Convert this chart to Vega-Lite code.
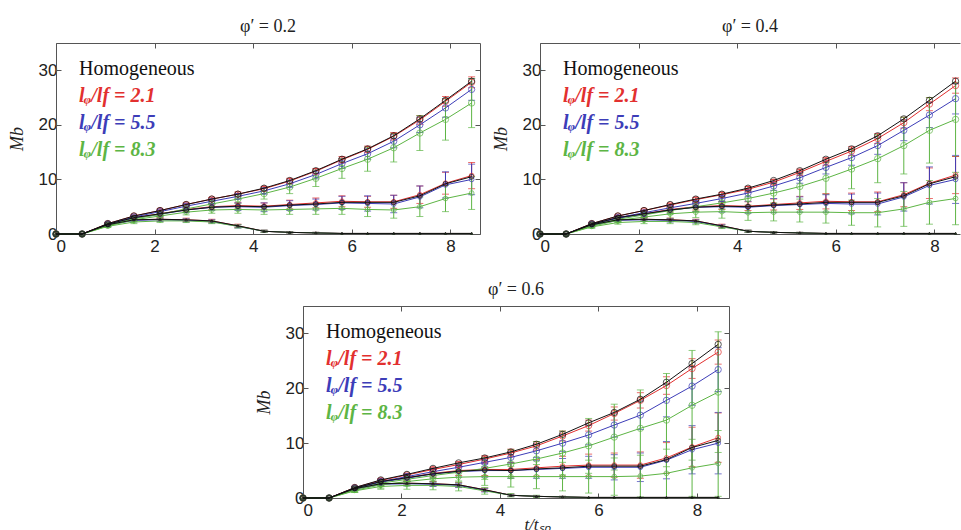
{
"$schema": "https://vega.github.io/schema/vega-lite/v6.json",
"padding": {"left": 8, "top": 17, "right": 0, "bottom": 0},
"config": {
 "view": {"stroke": null},
 "axis": {"grid": false, "labelFont": "Liberation Sans", "labelFontSize": 17, "labelColor": "#222", "domainColor": "#555", "tickColor": "#555", "tickSize": -5, "labelPadding": 4, "titleFont": "Liberation Serif", "titleFontStyle": "italic", "titleFontWeight": "normal", "titleFontSize": 18, "titleColor": "#222", "titlePadding": 12},
 "axisX": {"labelPadding": 9},
 "title": {"font": "Liberation Serif", "fontSize": 18, "fontWeight": "normal", "offset": 7, "color": "#222"},
 "legend": {"orient": "none", "legendX": 3, "legendY": 16, "symbolSize": 0, "symbolStrokeWidth": 0, "symbolOpacity": 0, "labelOffset": 0, "rowPadding": 7, "labelFont": "Liberation Serif", "labelFontSize": 20, "padding": 0},
 "line": {"strokeWidth": 1},
 "point": {"filled": false, "strokeWidth": 1}
},
"datasets": {
"H": [
{"s":"H","g":"u","t":0,"m":0},{"s":"H","g":"u","t":0.53,"m":0},{"s":"H","g":"u","t":1.05,"m":1.9},{"s":"H","g":"u","t":1.58,"m":3.3},{"s":"H","g":"u","t":2.11,"m":4.3},{"s":"H","g":"u","t":2.64,"m":5.4},{"s":"H","g":"u","t":3.16,"m":6.4},{"s":"H","g":"u","t":3.69,"m":7.3},{"s":"H","g":"u","t":4.22,"m":8.4},{"s":"H","g":"u","t":4.74,"m":9.8},{"s":"H","g":"u","t":5.27,"m":11.6},{"s":"H","g":"u","t":5.8,"m":13.7},{"s":"H","g":"u","t":6.32,"m":15.6},{"s":"H","g":"u","t":6.85,"m":18},{"s":"H","g":"u","t":7.38,"m":21.1},{"s":"H","g":"u","t":7.9,"m":24.5},{"s":"H","g":"u","t":8.43,"m":28},
{"s":"H","g":"m","t":0,"m":0},{"s":"H","g":"m","t":0.53,"m":0},{"s":"H","g":"m","t":1.05,"m":1.8},{"s":"H","g":"m","t":1.58,"m":3},{"s":"H","g":"m","t":2.11,"m":3.7},{"s":"H","g":"m","t":2.64,"m":4.4},{"s":"H","g":"m","t":3.16,"m":4.9},{"s":"H","g":"m","t":3.69,"m":5.1},{"s":"H","g":"m","t":4.22,"m":5},{"s":"H","g":"m","t":4.74,"m":5.3},{"s":"H","g":"m","t":5.27,"m":5.5},{"s":"H","g":"m","t":5.8,"m":5.8},{"s":"H","g":"m","t":6.32,"m":5.8},{"s":"H","g":"m","t":6.85,"m":5.8},{"s":"H","g":"m","t":7.38,"m":7},{"s":"H","g":"m","t":7.9,"m":9.2},{"s":"H","g":"m","t":8.43,"m":10.5},
{"s":"H","g":"l","t":0,"m":0},{"s":"H","g":"l","t":0.53,"m":0},{"s":"H","g":"l","t":1.05,"m":1.7},{"s":"H","g":"l","t":1.58,"m":2.6},{"s":"H","g":"l","t":2.11,"m":2.7},{"s":"H","g":"l","t":2.64,"m":2.6},{"s":"H","g":"l","t":3.16,"m":2.4},{"s":"H","g":"l","t":3.69,"m":1.5},{"s":"H","g":"l","t":4.22,"m":0.5},{"s":"H","g":"l","t":4.74,"m":0.3},{"s":"H","g":"l","t":5.27,"m":0.2},{"s":"H","g":"l","t":5.8,"m":0.1},{"s":"H","g":"l","t":6.32,"m":0.1},{"s":"H","g":"l","t":6.85,"m":0.1},{"s":"H","g":"l","t":7.38,"m":0.1},{"s":"H","g":"l","t":7.9,"m":0.1},{"s":"H","g":"l","t":8.43,"m":0.1}
],
"p2": [
{"s":"A","g":"u","t":0,"m":0},{"s":"A","g":"u","t":0.53,"m":0},{"s":"A","g":"u","t":1.05,"m":1.9,"e":0.2},{"s":"A","g":"u","t":1.58,"m":3.3,"e":0.2},{"s":"A","g":"u","t":2.11,"m":4.3,"e":0.3},{"s":"A","g":"u","t":2.64,"m":5.4,"e":0.3},{"s":"A","g":"u","t":3.16,"m":6.4,"e":0.3},{"s":"A","g":"u","t":3.69,"m":7.3,"e":0.4},{"s":"A","g":"u","t":4.22,"m":8.3,"e":0.4},{"s":"A","g":"u","t":4.74,"m":9.7,"e":0.5},{"s":"A","g":"u","t":5.27,"m":11.5,"e":0.5},{"s":"A","g":"u","t":5.8,"m":13.6,"e":0.6},{"s":"A","g":"u","t":6.32,"m":15.5,"e":0.6},{"s":"A","g":"u","t":6.85,"m":17.9,"e":0.7},{"s":"A","g":"u","t":7.38,"m":20.9,"e":0.8},{"s":"A","g":"u","t":7.9,"m":24.3,"e":0.9},{"s":"A","g":"u","t":8.43,"m":27.8,"e":1},
{"s":"A","g":"m","t":0,"m":0},{"s":"A","g":"m","t":0.53,"m":0},{"s":"A","g":"m","t":1.05,"m":1.8,"e":0.2},{"s":"A","g":"m","t":1.58,"m":3,"e":0.2},{"s":"A","g":"m","t":2.11,"m":3.7,"e":0.3},{"s":"A","g":"m","t":2.64,"m":4.5,"e":0.4},{"s":"A","g":"m","t":3.16,"m":5,"e":0.5},{"s":"A","g":"m","t":3.69,"m":5.2,"e":0.6},{"s":"A","g":"m","t":4.22,"m":5.1,"e":0.6},{"s":"A","g":"m","t":4.74,"m":5.4,"e":0.8},{"s":"A","g":"m","t":5.27,"m":5.7,"e":0.9},{"s":"A","g":"m","t":5.8,"m":6,"e":1},{"s":"A","g":"m","t":6.32,"m":5.9,"e":1},{"s":"A","g":"m","t":6.85,"m":5.9,"e":1.2},{"s":"A","g":"m","t":7.38,"m":7.2,"e":1.6},{"s":"A","g":"m","t":7.9,"m":9.3,"e":2},{"s":"A","g":"m","t":8.43,"m":10.7,"e":2.4},
{"s":"A","g":"l","t":0,"m":0},{"s":"A","g":"l","t":0.53,"m":0},{"s":"A","g":"l","t":1.05,"m":1.7,"e":0.2},{"s":"A","g":"l","t":1.58,"m":2.6,"e":0.2},{"s":"A","g":"l","t":2.11,"m":2.7,"e":0.3},{"s":"A","g":"l","t":2.64,"m":2.6,"e":0.3},{"s":"A","g":"l","t":3.16,"m":2.4,"e":0.3},{"s":"A","g":"l","t":3.69,"m":1.5,"e":0.3},{"s":"A","g":"l","t":4.22,"m":0.5,"e":0.2},{"s":"A","g":"l","t":4.74,"m":0.3,"e":0.1},{"s":"A","g":"l","t":5.27,"m":0.2,"e":0.1},{"s":"A","g":"l","t":5.8,"m":0.1},{"s":"A","g":"l","t":6.32,"m":0.1},{"s":"A","g":"l","t":6.85,"m":0.1},{"s":"A","g":"l","t":7.38,"m":0.1},{"s":"A","g":"l","t":7.9,"m":0.1},{"s":"A","g":"l","t":8.43,"m":0.1},
{"s":"B","g":"u","t":0,"m":0},{"s":"B","g":"u","t":0.53,"m":0},{"s":"B","g":"u","t":1.05,"m":1.8,"e":0.2},{"s":"B","g":"u","t":1.58,"m":3.1,"e":0.3},{"s":"B","g":"u","t":2.11,"m":4.1,"e":0.3},{"s":"B","g":"u","t":2.64,"m":5.1,"e":0.4},{"s":"B","g":"u","t":3.16,"m":6,"e":0.4},{"s":"B","g":"u","t":3.69,"m":6.9,"e":0.5},{"s":"B","g":"u","t":4.22,"m":7.9,"e":0.6},{"s":"B","g":"u","t":4.74,"m":9.2,"e":0.7},{"s":"B","g":"u","t":5.27,"m":10.9,"e":0.8},{"s":"B","g":"u","t":5.8,"m":12.9,"e":0.9},{"s":"B","g":"u","t":6.32,"m":14.7,"e":1},{"s":"B","g":"u","t":6.85,"m":17,"e":1.2},{"s":"B","g":"u","t":7.38,"m":20,"e":1.4},{"s":"B","g":"u","t":7.9,"m":23.1,"e":1.7},{"s":"B","g":"u","t":8.43,"m":26.5,"e":2},
{"s":"B","g":"m","t":0,"m":0},{"s":"B","g":"m","t":0.53,"m":0},{"s":"B","g":"m","t":1.05,"m":1.7,"e":0.2},{"s":"B","g":"m","t":1.58,"m":2.9,"e":0.3},{"s":"B","g":"m","t":2.11,"m":3.6,"e":0.4},{"s":"B","g":"m","t":2.64,"m":4.4,"e":0.5},{"s":"B","g":"m","t":3.16,"m":4.9,"e":0.6},{"s":"B","g":"m","t":3.69,"m":5,"e":0.7},{"s":"B","g":"m","t":4.22,"m":4.9,"e":0.8},{"s":"B","g":"m","t":4.74,"m":5.2,"e":0.9},{"s":"B","g":"m","t":5.27,"m":5.4,"e":1},{"s":"B","g":"m","t":5.8,"m":5.7,"e":1.2},{"s":"B","g":"m","t":6.32,"m":5.6,"e":1.4},{"s":"B","g":"m","t":6.85,"m":5.5,"e":1.6},{"s":"B","g":"m","t":7.38,"m":6.8,"e":2},{"s":"B","g":"m","t":7.9,"m":9,"e":2.4},{"s":"B","g":"m","t":8.43,"m":10,"e":2.8},
{"s":"B","g":"l","t":0,"m":0},{"s":"B","g":"l","t":0.53,"m":0},{"s":"B","g":"l","t":1.05,"m":1.6,"e":0.2},{"s":"B","g":"l","t":1.58,"m":2.5,"e":0.3},{"s":"B","g":"l","t":2.11,"m":2.6,"e":0.3},{"s":"B","g":"l","t":2.64,"m":2.5,"e":0.3},{"s":"B","g":"l","t":3.16,"m":2.3,"e":0.3},{"s":"B","g":"l","t":3.69,"m":1.4,"e":0.3},{"s":"B","g":"l","t":4.22,"m":0.5,"e":0.2},{"s":"B","g":"l","t":4.74,"m":0.3,"e":0.1},{"s":"B","g":"l","t":5.27,"m":0.2,"e":0.1},{"s":"B","g":"l","t":5.8,"m":0.1},{"s":"B","g":"l","t":6.32,"m":0.1},{"s":"B","g":"l","t":6.85,"m":0.1},{"s":"B","g":"l","t":7.38,"m":0.1},{"s":"B","g":"l","t":7.9,"m":0.1},{"s":"B","g":"l","t":8.43,"m":0.1},
{"s":"C","g":"u","t":0,"m":0},{"s":"C","g":"u","t":0.53,"m":0},{"s":"C","g":"u","t":1.05,"m":1.6,"e":0.2},{"s":"C","g":"u","t":1.58,"m":2.8,"e":0.3},{"s":"C","g":"u","t":2.11,"m":3.6,"e":0.4},{"s":"C","g":"u","t":2.64,"m":4.6,"e":0.5},{"s":"C","g":"u","t":3.16,"m":5.5,"e":0.6},{"s":"C","g":"u","t":3.69,"m":6.4,"e":0.8},{"s":"C","g":"u","t":4.22,"m":7.4,"e":1},{"s":"C","g":"u","t":4.74,"m":8.6,"e":1.2},{"s":"C","g":"u","t":5.27,"m":10.2,"e":1.5},{"s":"C","g":"u","t":5.8,"m":12,"e":1.8},{"s":"C","g":"u","t":6.32,"m":13.7,"e":2.2},{"s":"C","g":"u","t":6.85,"m":15.8,"e":2.6},{"s":"C","g":"u","t":7.38,"m":18.5,"e":3.2},{"s":"C","g":"u","t":7.9,"m":21,"e":3.8},{"s":"C","g":"u","t":8.43,"m":24,"e":4.5},
{"s":"C","g":"m","t":0,"m":0},{"s":"C","g":"m","t":0.53,"m":0},{"s":"C","g":"m","t":1.05,"m":1.5,"e":0.2},{"s":"C","g":"m","t":1.58,"m":2.6,"e":0.3},{"s":"C","g":"m","t":2.11,"m":3.3,"e":0.4},{"s":"C","g":"m","t":2.64,"m":4,"e":0.5},{"s":"C","g":"m","t":3.16,"m":4.4,"e":0.6},{"s":"C","g":"m","t":3.69,"m":4.5,"e":0.7},{"s":"C","g":"m","t":4.22,"m":4.4,"e":0.8},{"s":"C","g":"m","t":4.74,"m":4.5,"e":0.9},{"s":"C","g":"m","t":5.27,"m":4.6,"e":1},{"s":"C","g":"m","t":5.8,"m":4.7,"e":1.1},{"s":"C","g":"m","t":6.32,"m":4.5,"e":1.3},{"s":"C","g":"m","t":6.85,"m":4.4,"e":1.5},{"s":"C","g":"m","t":7.38,"m":5,"e":1.8},{"s":"C","g":"m","t":7.9,"m":6.5,"e":2.4},{"s":"C","g":"m","t":8.43,"m":7.5,"e":3},
{"s":"C","g":"l","t":0,"m":0},{"s":"C","g":"l","t":0.53,"m":0},{"s":"C","g":"l","t":1.05,"m":1.4,"e":0.2},{"s":"C","g":"l","t":1.58,"m":2.2,"e":0.3},{"s":"C","g":"l","t":2.11,"m":2.4,"e":0.3},{"s":"C","g":"l","t":2.64,"m":2.4,"e":0.3},{"s":"C","g":"l","t":3.16,"m":2.2,"e":0.3},{"s":"C","g":"l","t":3.69,"m":1.4,"e":0.3},{"s":"C","g":"l","t":4.22,"m":0.5,"e":0.2},{"s":"C","g":"l","t":4.74,"m":0.3,"e":0.1},{"s":"C","g":"l","t":5.27,"m":0.2,"e":0.1},{"s":"C","g":"l","t":5.8,"m":0.1},{"s":"C","g":"l","t":6.32,"m":0.1},{"s":"C","g":"l","t":6.85,"m":0.1},{"s":"C","g":"l","t":7.38,"m":0.1},{"s":"C","g":"l","t":7.9,"m":0.1},{"s":"C","g":"l","t":8.43,"m":0.1}
],
"p4": [
{"s":"A","g":"u","t":0,"m":0},{"s":"A","g":"u","t":0.53,"m":0},{"s":"A","g":"u","t":1.05,"m":1.9,"e":0.2},{"s":"A","g":"u","t":1.58,"m":3.3,"e":0.2},{"s":"A","g":"u","t":2.11,"m":4.3,"e":0.3},{"s":"A","g":"u","t":2.64,"m":5.3,"e":0.3},{"s":"A","g":"u","t":3.16,"m":6.3,"e":0.4},{"s":"A","g":"u","t":3.69,"m":7.2,"e":0.4},{"s":"A","g":"u","t":4.22,"m":8.2,"e":0.5},{"s":"A","g":"u","t":4.74,"m":9.5,"e":0.5},{"s":"A","g":"u","t":5.27,"m":11.3,"e":0.6},{"s":"A","g":"u","t":5.8,"m":13.3,"e":0.7},{"s":"A","g":"u","t":6.32,"m":15.2,"e":0.8},{"s":"A","g":"u","t":6.85,"m":17.5,"e":0.9},{"s":"A","g":"u","t":7.38,"m":20.4,"e":1},{"s":"A","g":"u","t":7.9,"m":23.8,"e":1.2},{"s":"A","g":"u","t":8.43,"m":27.2,"e":1.4},
{"s":"A","g":"m","t":0,"m":0},{"s":"A","g":"m","t":0.53,"m":0},{"s":"A","g":"m","t":1.05,"m":1.8,"e":0.2},{"s":"A","g":"m","t":1.58,"m":3,"e":0.3},{"s":"A","g":"m","t":2.11,"m":3.7,"e":0.4},{"s":"A","g":"m","t":2.64,"m":4.5,"e":0.5},{"s":"A","g":"m","t":3.16,"m":5,"e":0.6},{"s":"A","g":"m","t":3.69,"m":5.2,"e":0.7},{"s":"A","g":"m","t":4.22,"m":5.1,"e":0.8},{"s":"A","g":"m","t":4.74,"m":5.4,"e":1},{"s":"A","g":"m","t":5.27,"m":5.7,"e":1.2},{"s":"A","g":"m","t":5.8,"m":6,"e":1.4},{"s":"A","g":"m","t":6.32,"m":5.9,"e":1.6},{"s":"A","g":"m","t":6.85,"m":5.9,"e":1.8},{"s":"A","g":"m","t":7.38,"m":7.2,"e":2.2},{"s":"A","g":"m","t":7.9,"m":9.3,"e":2.8},{"s":"A","g":"m","t":8.43,"m":10.8,"e":3.4},
{"s":"A","g":"l","t":0,"m":0},{"s":"A","g":"l","t":0.53,"m":0},{"s":"A","g":"l","t":1.05,"m":1.7,"e":0.2},{"s":"A","g":"l","t":1.58,"m":2.6,"e":0.2},{"s":"A","g":"l","t":2.11,"m":2.7,"e":0.3},{"s":"A","g":"l","t":2.64,"m":2.6,"e":0.3},{"s":"A","g":"l","t":3.16,"m":2.4,"e":0.3},{"s":"A","g":"l","t":3.69,"m":1.5,"e":0.3},{"s":"A","g":"l","t":4.22,"m":0.5,"e":0.2},{"s":"A","g":"l","t":4.74,"m":0.3,"e":0.1},{"s":"A","g":"l","t":5.27,"m":0.2,"e":0.1},{"s":"A","g":"l","t":5.8,"m":0.1},{"s":"A","g":"l","t":6.32,"m":0.1},{"s":"A","g":"l","t":6.85,"m":0.1},{"s":"A","g":"l","t":7.38,"m":0.1},{"s":"A","g":"l","t":7.9,"m":0.1},{"s":"A","g":"l","t":8.43,"m":0.1},
{"s":"B","g":"u","t":0,"m":0},{"s":"B","g":"u","t":0.53,"m":0},{"s":"B","g":"u","t":1.05,"m":1.8,"e":0.2},{"s":"B","g":"u","t":1.58,"m":3,"e":0.3},{"s":"B","g":"u","t":2.11,"m":3.9,"e":0.4},{"s":"B","g":"u","t":2.64,"m":4.8,"e":0.4},{"s":"B","g":"u","t":3.16,"m":5.6,"e":0.5},{"s":"B","g":"u","t":3.69,"m":6.5,"e":0.6},{"s":"B","g":"u","t":4.22,"m":7.5,"e":0.7},{"s":"B","g":"u","t":4.74,"m":8.8,"e":0.8},{"s":"B","g":"u","t":5.27,"m":10.3,"e":1},{"s":"B","g":"u","t":5.8,"m":12.2,"e":1.2},{"s":"B","g":"u","t":6.32,"m":14,"e":1.4},{"s":"B","g":"u","t":6.85,"m":16.2,"e":1.6},{"s":"B","g":"u","t":7.38,"m":19,"e":1.9},{"s":"B","g":"u","t":7.9,"m":21.8,"e":2.3},{"s":"B","g":"u","t":8.43,"m":24.8,"e":2.8},
{"s":"B","g":"m","t":0,"m":0},{"s":"B","g":"m","t":0.53,"m":0},{"s":"B","g":"m","t":1.05,"m":1.7,"e":0.2},{"s":"B","g":"m","t":1.58,"m":2.9,"e":0.3},{"s":"B","g":"m","t":2.11,"m":3.6,"e":0.5},{"s":"B","g":"m","t":2.64,"m":4.4,"e":0.6},{"s":"B","g":"m","t":3.16,"m":4.9,"e":0.8},{"s":"B","g":"m","t":3.69,"m":5,"e":1},{"s":"B","g":"m","t":4.22,"m":4.9,"e":1.1},{"s":"B","g":"m","t":4.74,"m":5.2,"e":1.3},{"s":"B","g":"m","t":5.27,"m":5.4,"e":1.4},{"s":"B","g":"m","t":5.8,"m":5.6,"e":1.6},{"s":"B","g":"m","t":6.32,"m":5.5,"e":1.8},{"s":"B","g":"m","t":6.85,"m":5.5,"e":2},{"s":"B","g":"m","t":7.38,"m":6.8,"e":2.6},{"s":"B","g":"m","t":7.9,"m":8.9,"e":3.4},{"s":"B","g":"m","t":8.43,"m":10,"e":4.4},
{"s":"B","g":"l","t":0,"m":0},{"s":"B","g":"l","t":0.53,"m":0},{"s":"B","g":"l","t":1.05,"m":1.6,"e":0.2},{"s":"B","g":"l","t":1.58,"m":2.5,"e":0.3},{"s":"B","g":"l","t":2.11,"m":2.6,"e":0.3},{"s":"B","g":"l","t":2.64,"m":2.5,"e":0.3},{"s":"B","g":"l","t":3.16,"m":2.3,"e":0.3},{"s":"B","g":"l","t":3.69,"m":1.4,"e":0.3},{"s":"B","g":"l","t":4.22,"m":0.5,"e":0.2},{"s":"B","g":"l","t":4.74,"m":0.3,"e":0.1},{"s":"B","g":"l","t":5.27,"m":0.2,"e":0.1},{"s":"B","g":"l","t":5.8,"m":0.1},{"s":"B","g":"l","t":6.32,"m":0.1},{"s":"B","g":"l","t":6.85,"m":0.1},{"s":"B","g":"l","t":7.38,"m":0.1},{"s":"B","g":"l","t":7.9,"m":0.1},{"s":"B","g":"l","t":8.43,"m":0.1},
{"s":"C","g":"u","t":0,"m":0},{"s":"C","g":"u","t":0.53,"m":0},{"s":"C","g":"u","t":1.05,"m":1.6,"e":0.3},{"s":"C","g":"u","t":1.58,"m":2.7,"e":0.4},{"s":"C","g":"u","t":2.11,"m":3.5,"e":0.5},{"s":"C","g":"u","t":2.64,"m":4.3,"e":0.7},{"s":"C","g":"u","t":3.16,"m":5,"e":0.9},{"s":"C","g":"u","t":3.69,"m":5.7,"e":1.1},{"s":"C","g":"u","t":4.22,"m":6.5,"e":1.4},{"s":"C","g":"u","t":4.74,"m":7.5,"e":1.8},{"s":"C","g":"u","t":5.27,"m":8.7,"e":2.3},{"s":"C","g":"u","t":5.8,"m":10.2,"e":2.9},{"s":"C","g":"u","t":6.32,"m":11.9,"e":3.6},{"s":"C","g":"u","t":6.85,"m":13.8,"e":4.4},{"s":"C","g":"u","t":7.38,"m":16.2,"e":5.2},{"s":"C","g":"u","t":7.9,"m":19,"e":6},{"s":"C","g":"u","t":8.43,"m":21,"e":6.8},
{"s":"C","g":"m","t":0,"m":0},{"s":"C","g":"m","t":0.53,"m":0},{"s":"C","g":"m","t":1.05,"m":1.4,"e":0.3},{"s":"C","g":"m","t":1.58,"m":2.5,"e":0.4},{"s":"C","g":"m","t":2.11,"m":3.1,"e":0.6},{"s":"C","g":"m","t":2.64,"m":3.7,"e":0.8},{"s":"C","g":"m","t":3.16,"m":4,"e":1},{"s":"C","g":"m","t":3.69,"m":4.1,"e":1.2},{"s":"C","g":"m","t":4.22,"m":3.9,"e":1.4},{"s":"C","g":"m","t":4.74,"m":4,"e":1.6},{"s":"C","g":"m","t":5.27,"m":4,"e":1.8},{"s":"C","g":"m","t":5.8,"m":4,"e":2},{"s":"C","g":"m","t":6.32,"m":3.9,"e":2.3},{"s":"C","g":"m","t":6.85,"m":3.9,"e":2.6},{"s":"C","g":"m","t":7.38,"m":4.6,"e":3.2},{"s":"C","g":"m","t":7.9,"m":5.8,"e":4},{"s":"C","g":"m","t":8.43,"m":6.5,"e":4.8},
{"s":"C","g":"l","t":0,"m":0},{"s":"C","g":"l","t":0.53,"m":0},{"s":"C","g":"l","t":1.05,"m":1.3,"e":0.2},{"s":"C","g":"l","t":1.58,"m":2.1,"e":0.3},{"s":"C","g":"l","t":2.11,"m":2.3,"e":0.4},{"s":"C","g":"l","t":2.64,"m":2.3,"e":0.4},{"s":"C","g":"l","t":3.16,"m":2.1,"e":0.4},{"s":"C","g":"l","t":3.69,"m":1.3,"e":0.3},{"s":"C","g":"l","t":4.22,"m":0.5,"e":0.2},{"s":"C","g":"l","t":4.74,"m":0.3,"e":0.1},{"s":"C","g":"l","t":5.27,"m":0.2,"e":0.1},{"s":"C","g":"l","t":5.8,"m":0.1},{"s":"C","g":"l","t":6.32,"m":0.1},{"s":"C","g":"l","t":6.85,"m":0.1},{"s":"C","g":"l","t":7.38,"m":0.1},{"s":"C","g":"l","t":7.9,"m":0.1},{"s":"C","g":"l","t":8.43,"m":0.1}
],
"p6": [
{"s":"A","g":"u","t":0,"m":0},{"s":"A","g":"u","t":0.53,"m":0},{"s":"A","g":"u","t":1.05,"m":1.9,"e":0.2},{"s":"A","g":"u","t":1.58,"m":3.2,"e":0.3},{"s":"A","g":"u","t":2.11,"m":4.2,"e":0.3},{"s":"A","g":"u","t":2.64,"m":5.2,"e":0.4},{"s":"A","g":"u","t":3.16,"m":6.1,"e":0.5},{"s":"A","g":"u","t":3.69,"m":7.1,"e":0.6},{"s":"A","g":"u","t":4.22,"m":8.2,"e":0.7},{"s":"A","g":"u","t":4.74,"m":9.5,"e":0.8},{"s":"A","g":"u","t":5.27,"m":11.3,"e":0.9},{"s":"A","g":"u","t":5.8,"m":13.2,"e":1},{"s":"A","g":"u","t":6.32,"m":15.4,"e":1.2},{"s":"A","g":"u","t":6.85,"m":17.8,"e":1.4},{"s":"A","g":"u","t":7.38,"m":20.5,"e":1.6},{"s":"A","g":"u","t":7.9,"m":23.6,"e":1.8},{"s":"A","g":"u","t":8.43,"m":26.6,"e":2.2},
{"s":"A","g":"m","t":0,"m":0},{"s":"A","g":"m","t":0.53,"m":0},{"s":"A","g":"m","t":1.05,"m":1.8,"e":0.3},{"s":"A","g":"m","t":1.58,"m":3,"e":0.4},{"s":"A","g":"m","t":2.11,"m":3.7,"e":0.5},{"s":"A","g":"m","t":2.64,"m":4.5,"e":0.7},{"s":"A","g":"m","t":3.16,"m":5,"e":0.9},{"s":"A","g":"m","t":3.69,"m":5.2,"e":1.1},{"s":"A","g":"m","t":4.22,"m":5.2,"e":1.3},{"s":"A","g":"m","t":4.74,"m":5.5,"e":1.5},{"s":"A","g":"m","t":5.27,"m":5.8,"e":1.8},{"s":"A","g":"m","t":5.8,"m":6,"e":2},{"s":"A","g":"m","t":6.32,"m":6,"e":2.2},{"s":"A","g":"m","t":6.85,"m":6,"e":2.4},{"s":"A","g":"m","t":7.38,"m":7.3,"e":2.8},{"s":"A","g":"m","t":7.9,"m":9.3,"e":3.6},{"s":"A","g":"m","t":8.43,"m":11,"e":4.5},
{"s":"A","g":"l","t":0,"m":0},{"s":"A","g":"l","t":0.53,"m":0},{"s":"A","g":"l","t":1.05,"m":1.7,"e":0.2},{"s":"A","g":"l","t":1.58,"m":2.6,"e":0.3},{"s":"A","g":"l","t":2.11,"m":2.7,"e":0.3},{"s":"A","g":"l","t":2.64,"m":2.6,"e":0.4},{"s":"A","g":"l","t":3.16,"m":2.4,"e":0.4},{"s":"A","g":"l","t":3.69,"m":1.5,"e":0.3},{"s":"A","g":"l","t":4.22,"m":0.5,"e":0.2},{"s":"A","g":"l","t":4.74,"m":0.3,"e":0.1},{"s":"A","g":"l","t":5.27,"m":0.2,"e":0.1},{"s":"A","g":"l","t":5.8,"m":0.1},{"s":"A","g":"l","t":6.32,"m":0.1},{"s":"A","g":"l","t":6.85,"m":0.1},{"s":"A","g":"l","t":7.38,"m":0.1},{"s":"A","g":"l","t":7.9,"m":0.1},{"s":"A","g":"l","t":8.43,"m":0.1},
{"s":"B","g":"u","t":0,"m":0},{"s":"B","g":"u","t":0.53,"m":0},{"s":"B","g":"u","t":1.05,"m":1.8,"e":0.3},{"s":"B","g":"u","t":1.58,"m":3,"e":0.4},{"s":"B","g":"u","t":2.11,"m":3.9,"e":0.5},{"s":"B","g":"u","t":2.64,"m":4.8,"e":0.6},{"s":"B","g":"u","t":3.16,"m":5.6,"e":0.7},{"s":"B","g":"u","t":3.69,"m":6.5,"e":0.8},{"s":"B","g":"u","t":4.22,"m":7.4,"e":1},{"s":"B","g":"u","t":4.74,"m":8.6,"e":1.2},{"s":"B","g":"u","t":5.27,"m":10,"e":1.5},{"s":"B","g":"u","t":5.8,"m":11.5,"e":1.8},{"s":"B","g":"u","t":6.32,"m":13.3,"e":2.2},{"s":"B","g":"u","t":6.85,"m":15.1,"e":2.6},{"s":"B","g":"u","t":7.38,"m":17.8,"e":3},{"s":"B","g":"u","t":7.9,"m":20.4,"e":3.5},{"s":"B","g":"u","t":8.43,"m":23.4,"e":4},
{"s":"B","g":"m","t":0,"m":0},{"s":"B","g":"m","t":0.53,"m":0},{"s":"B","g":"m","t":1.05,"m":1.7,"e":0.3},{"s":"B","g":"m","t":1.58,"m":2.9,"e":0.5},{"s":"B","g":"m","t":2.11,"m":3.6,"e":0.6},{"s":"B","g":"m","t":2.64,"m":4.4,"e":0.8},{"s":"B","g":"m","t":3.16,"m":4.8,"e":1},{"s":"B","g":"m","t":3.69,"m":5,"e":1.2},{"s":"B","g":"m","t":4.22,"m":5,"e":1.4},{"s":"B","g":"m","t":4.74,"m":5.2,"e":1.6},{"s":"B","g":"m","t":5.27,"m":5.4,"e":1.8},{"s":"B","g":"m","t":5.8,"m":5.6,"e":2},{"s":"B","g":"m","t":6.32,"m":5.6,"e":2.3},{"s":"B","g":"m","t":6.85,"m":5.6,"e":2.6},{"s":"B","g":"m","t":7.38,"m":6.9,"e":3.4},{"s":"B","g":"m","t":7.9,"m":8.8,"e":4.4},{"s":"B","g":"m","t":8.43,"m":10,"e":5.6},
{"s":"B","g":"l","t":0,"m":0},{"s":"B","g":"l","t":0.53,"m":0},{"s":"B","g":"l","t":1.05,"m":1.6,"e":0.2},{"s":"B","g":"l","t":1.58,"m":2.5,"e":0.3},{"s":"B","g":"l","t":2.11,"m":2.6,"e":0.4},{"s":"B","g":"l","t":2.64,"m":2.5,"e":0.4},{"s":"B","g":"l","t":3.16,"m":2.3,"e":0.4},{"s":"B","g":"l","t":3.69,"m":1.4,"e":0.3},{"s":"B","g":"l","t":4.22,"m":0.5,"e":0.2},{"s":"B","g":"l","t":4.74,"m":0.3,"e":0.1},{"s":"B","g":"l","t":5.27,"m":0.2,"e":0.1},{"s":"B","g":"l","t":5.8,"m":0.1},{"s":"B","g":"l","t":6.32,"m":0.1},{"s":"B","g":"l","t":6.85,"m":0.1},{"s":"B","g":"l","t":7.38,"m":0.1},{"s":"B","g":"l","t":7.9,"m":0.1},{"s":"B","g":"l","t":8.43,"m":0.1},
{"s":"C","g":"u","t":0,"m":0},{"s":"C","g":"u","t":0.53,"m":0},{"s":"C","g":"u","t":1.05,"m":1.6,"e":0.4},{"s":"C","g":"u","t":1.58,"m":2.7,"e":0.6},{"s":"C","g":"u","t":2.11,"m":3.4,"e":0.9},{"s":"C","g":"u","t":2.64,"m":4.1,"e":1.2},{"s":"C","g":"u","t":3.16,"m":4.7,"e":1.6},{"s":"C","g":"u","t":3.69,"m":5.4,"e":2},{"s":"C","g":"u","t":4.22,"m":6.2,"e":2.6},{"s":"C","g":"u","t":4.74,"m":7.1,"e":3.2},{"s":"C","g":"u","t":5.27,"m":8.2,"e":4},{"s":"C","g":"u","t":5.8,"m":9.5,"e":5},{"s":"C","g":"u","t":6.32,"m":11.1,"e":6},{"s":"C","g":"u","t":6.85,"m":12.7,"e":7},{"s":"C","g":"u","t":7.38,"m":14.2,"e":8.5},{"s":"C","g":"u","t":7.9,"m":16.9,"e":10},{"s":"C","g":"u","t":8.43,"m":19.3,"e":11},
{"s":"C","g":"m","t":0,"m":0},{"s":"C","g":"m","t":0.53,"m":0},{"s":"C","g":"m","t":1.05,"m":1.4,"e":0.4},{"s":"C","g":"m","t":1.58,"m":2.4,"e":0.6},{"s":"C","g":"m","t":2.11,"m":3,"e":0.8},{"s":"C","g":"m","t":2.64,"m":3.5,"e":1},{"s":"C","g":"m","t":3.16,"m":3.8,"e":1.3},{"s":"C","g":"m","t":3.69,"m":3.9,"e":1.6},{"s":"C","g":"m","t":4.22,"m":3.9,"e":1.9},{"s":"C","g":"m","t":4.74,"m":3.9,"e":2.2},{"s":"C","g":"m","t":5.27,"m":3.9,"e":2.6},{"s":"C","g":"m","t":5.8,"m":3.9,"e":3},{"s":"C","g":"m","t":6.32,"m":3.9,"e":3.4},{"s":"C","g":"m","t":6.85,"m":4,"e":3.8},{"s":"C","g":"m","t":7.38,"m":4.5,"e":4.4},{"s":"C","g":"m","t":7.9,"m":5.5,"e":5.2},{"s":"C","g":"m","t":8.43,"m":6.3,"e":6},
{"s":"C","g":"l","t":0,"m":0},{"s":"C","g":"l","t":0.53,"m":0},{"s":"C","g":"l","t":1.05,"m":1.3,"e":0.3},{"s":"C","g":"l","t":1.58,"m":2.1,"e":0.5},{"s":"C","g":"l","t":2.11,"m":2.3,"e":0.7},{"s":"C","g":"l","t":2.64,"m":2.3,"e":0.8},{"s":"C","g":"l","t":3.16,"m":2.1,"e":0.8},{"s":"C","g":"l","t":3.69,"m":1.3,"e":0.6},{"s":"C","g":"l","t":4.22,"m":0.5,"e":0.3},{"s":"C","g":"l","t":4.74,"m":0.3,"e":0.2},{"s":"C","g":"l","t":5.27,"m":0.2,"e":0.1},{"s":"C","g":"l","t":5.8,"m":0.1},{"s":"C","g":"l","t":6.32,"m":0.1},{"s":"C","g":"l","t":6.85,"m":0.1},{"s":"C","g":"l","t":7.38,"m":0.1},{"s":"C","g":"l","t":7.9,"m":0.1},{"s":"C","g":"l","t":8.43,"m":0.1}
]
},
"spacing": 26,
"resolve": {"scale": {"color": "independent", "shape": "independent", "size": "independent"}, "legend": {"color": "independent", "shape": "independent", "size": "independent"}},
"vconcat": [
{
"hconcat": [
{
 "width": 424, "height": 191,
 "title": "φ′ = 0.2",
 "resolve": {"axis": {"x": "independent", "y": "independent"}},
 "layer": [
  {"data": {"name": "p2"}, "transform": [{"filter": "datum.e > 0"}],
   "mark": {"type": "errorbar", "ticks": {"size": 7}, "thickness": 1},
   "encoding": {
    "x": {"field": "t", "type": "quantitative", "scale": {"domain": [0, 8.6], "nice": false}, "axis": null},
    "y": {"field": "m", "type": "quantitative", "scale": {"domain": [0, 35], "nice": false, "clamp": true}, "axis": null},
    "yError": {"field": "e"},
    "color": {"field": "s", "type": "nominal", "scale": {"domain": ["H", "A", "B", "C"], "range": ["#111111", "#e2302f", "#3d3db8", "#5db544"]}, "legend": {"title": null, "labelFont": "Liberation Serif", "labelFontSize": 20, "labelExpr": "datum.value == 'H' ? 'Homogeneous' : datum.value == 'A' ? 'lᵩ/lf = 2.1' : datum.value == 'B' ? 'lᵩ/lf = 5.5' : 'lᵩ/lf = 8.3'", "encode": {"labels": {"update": {"font": {"value": "Liberation Serif"}, "fontSize": {"value": 20}, "fill": {"signal": "datum.value == 'H' ? '#111111' : datum.value == 'A' ? '#e2302f' : datum.value == 'B' ? '#3d3db8' : '#5db544'"}, "fontStyle": {"signal": "datum.value == 'H' ? 'normal' : 'italic'"}, "fontWeight": {"signal": "datum.value == 'H' ? 'normal' : 'bold'"}}}}}}
   }},
  {"data": {"name": "p2"}, "mark": {"type": "line"},
   "encoding": {
    "x": {"field": "t", "type": "quantitative", "axis": {"orient": "bottom", "values": [0, 2, 4, 6, 8], "title": null}},
    "y": {"field": "m", "type": "quantitative", "axis": {"orient": "left", "values": [0, 10, 20, 30], "title": "Mb"}},
    "color": {"field": "s", "type": "nominal"},
    "detail": {"field": "g"}
   }},
  {"data": {"name": "p2"}, "mark": {"type": "point"},
   "encoding": {
    "x": {"field": "t", "type": "quantitative", "axis": {"orient": "top", "values": [0, 2, 4, 6, 8], "labels": false, "title": null}},
    "y": {"field": "m", "type": "quantitative", "axis": {"orient": "right", "values": [0, 10, 20, 30], "labels": false, "title": null}},
    "color": {"field": "s", "type": "nominal"},
    "shape": {"field": "g", "type": "nominal", "scale": {"domain": ["u", "m", "l"], "range": ["circle", "circle", "triangle-up"]}, "legend": null},
    "size": {"field": "g", "type": "ordinal", "scale": {"domain": ["u", "m", "l"], "range": [40, 6, 36]}, "legend": null}
   }},
  {"data": {"name": "H"}, "mark": {"type": "line"},
   "encoding": {
    "x": {"field": "t", "type": "quantitative", "axis": null},
    "y": {"field": "m", "type": "quantitative", "axis": null},
    "color": {"field": "s", "type": "nominal"},
    "detail": {"field": "g"}
   }},
  {"data": {"name": "H"}, "mark": {"type": "point"},
   "encoding": {
    "x": {"field": "t", "type": "quantitative", "axis": null},
    "y": {"field": "m", "type": "quantitative", "axis": null},
    "color": {"field": "s", "type": "nominal"},
    "shape": {"field": "g", "type": "nominal", "legend": null},
    "size": {"field": "g", "type": "ordinal", "legend": null}
   }}
 ]
},
{
 "width": 420, "height": 191,
 "title": "φ′ = 0.4",
 "resolve": {"axis": {"x": "independent", "y": "independent"}},
 "layer": [
  {"data": {"name": "p4"}, "transform": [{"filter": "datum.e > 0"}],
   "mark": {"type": "errorbar", "ticks": {"size": 7}, "thickness": 1},
   "encoding": {
    "x": {"field": "t", "type": "quantitative", "scale": {"domain": [0, 8.52], "nice": false}, "axis": null},
    "y": {"field": "m", "type": "quantitative", "scale": {"domain": [0, 35], "nice": false, "clamp": true}, "axis": null},
    "yError": {"field": "e"},
    "color": {"field": "s", "type": "nominal", "scale": {"domain": ["H", "A", "B", "C"], "range": ["#111111", "#e2302f", "#3d3db8", "#5db544"]}, "legend": {"title": null, "labelFont": "Liberation Serif", "labelFontSize": 20, "labelExpr": "datum.value == 'H' ? 'Homogeneous' : datum.value == 'A' ? 'lᵩ/lf = 2.1' : datum.value == 'B' ? 'lᵩ/lf = 5.5' : 'lᵩ/lf = 8.3'", "encode": {"labels": {"update": {"font": {"value": "Liberation Serif"}, "fontSize": {"value": 20}, "fill": {"signal": "datum.value == 'H' ? '#111111' : datum.value == 'A' ? '#e2302f' : datum.value == 'B' ? '#3d3db8' : '#5db544'"}, "fontStyle": {"signal": "datum.value == 'H' ? 'normal' : 'italic'"}, "fontWeight": {"signal": "datum.value == 'H' ? 'normal' : 'bold'"}}}}}}
   }},
  {"data": {"name": "p4"}, "mark": {"type": "line"},
   "encoding": {
    "x": {"field": "t", "type": "quantitative", "axis": {"orient": "bottom", "values": [0, 2, 4, 6, 8], "title": null}},
    "y": {"field": "m", "type": "quantitative", "axis": {"orient": "left", "values": [0, 10, 20, 30], "title": "Mb"}},
    "color": {"field": "s", "type": "nominal"},
    "detail": {"field": "g"}
   }},
  {"data": {"name": "p4"}, "mark": {"type": "point"},
   "encoding": {
    "x": {"field": "t", "type": "quantitative", "axis": {"orient": "top", "values": [0, 2, 4, 6, 8], "labels": false, "title": null}},
    "y": {"field": "m", "type": "quantitative", "axis": null},
    "color": {"field": "s", "type": "nominal"},
    "shape": {"field": "g", "type": "nominal", "scale": {"domain": ["u", "m", "l"], "range": ["circle", "circle", "triangle-up"]}, "legend": null},
    "size": {"field": "g", "type": "ordinal", "scale": {"domain": ["u", "m", "l"], "range": [40, 6, 36]}, "legend": null}
   }},
  {"data": {"name": "H"}, "mark": {"type": "line"},
   "encoding": {
    "x": {"field": "t", "type": "quantitative", "axis": null},
    "y": {"field": "m", "type": "quantitative", "axis": null},
    "color": {"field": "s", "type": "nominal"},
    "detail": {"field": "g"}
   }},
  {"data": {"name": "H"}, "mark": {"type": "point"},
   "encoding": {
    "x": {"field": "t", "type": "quantitative", "axis": null},
    "y": {"field": "m", "type": "quantitative", "axis": null},
    "color": {"field": "s", "type": "nominal"},
    "shape": {"field": "g", "type": "nominal", "legend": null},
    "size": {"field": "g", "type": "ordinal", "legend": null}
   }}
 ]
}
],
"spacing": 11,
"resolve": {"scale": {"color": "independent", "shape": "independent", "size": "independent"}, "legend": {"color": "independent", "shape": "independent", "size": "independent"}}
},
{
"hconcat": [
{
 "width": 199, "height": 10,
 "data": {"values": []},
 "mark": {"type": "point", "opacity": 0},
 "encoding": {}
},
{
 "width": 426, "height": 192,
 "title": "φ′ = 0.6",
 "resolve": {"axis": {"x": "independent", "y": "independent"}},
 "layer": [
  {"data": {"name": "p6"}, "transform": [{"filter": "datum.e > 0"}],
   "mark": {"type": "errorbar", "ticks": {"size": 7}, "thickness": 1},
   "encoding": {
    "x": {"field": "t", "type": "quantitative", "scale": {"domain": [0, 8.65], "nice": false}, "axis": null},
    "y": {"field": "m", "type": "quantitative", "scale": {"domain": [0, 35], "nice": false, "clamp": true}, "axis": null},
    "yError": {"field": "e"},
    "color": {"field": "s", "type": "nominal", "scale": {"domain": ["H", "A", "B", "C"], "range": ["#111111", "#e2302f", "#3d3db8", "#5db544"]}, "legend": {"title": null, "labelFont": "Liberation Serif", "labelFontSize": 20, "labelExpr": "datum.value == 'H' ? 'Homogeneous' : datum.value == 'A' ? 'lᵩ/lf = 2.1' : datum.value == 'B' ? 'lᵩ/lf = 5.5' : 'lᵩ/lf = 8.3'", "encode": {"labels": {"update": {"font": {"value": "Liberation Serif"}, "fontSize": {"value": 20}, "fill": {"signal": "datum.value == 'H' ? '#111111' : datum.value == 'A' ? '#e2302f' : datum.value == 'B' ? '#3d3db8' : '#5db544'"}, "fontStyle": {"signal": "datum.value == 'H' ? 'normal' : 'italic'"}, "fontWeight": {"signal": "datum.value == 'H' ? 'normal' : 'bold'"}}}}}}
   }},
  {"data": {"name": "p6"}, "mark": {"type": "line"},
   "encoding": {
    "x": {"field": "t", "type": "quantitative", "axis": {"orient": "bottom", "values": [0, 2, 4, 6, 8], "title": "t/tₛₚ", "titleX": 234, "titleY": 18, "titleFontSize": 17}},
    "y": {"field": "m", "type": "quantitative", "axis": {"orient": "left", "values": [0, 10, 20, 30], "title": "Mb"}},
    "color": {"field": "s", "type": "nominal"},
    "detail": {"field": "g"}
   }},
  {"data": {"name": "p6"}, "mark": {"type": "point"},
   "encoding": {
    "x": {"field": "t", "type": "quantitative", "axis": {"orient": "top", "values": [0, 2, 4, 6, 8], "labels": false, "title": null}},
    "y": {"field": "m", "type": "quantitative", "axis": {"orient": "right", "values": [0, 10, 20, 30], "labels": false, "title": null}},
    "color": {"field": "s", "type": "nominal"},
    "shape": {"field": "g", "type": "nominal", "scale": {"domain": ["u", "m", "l"], "range": ["circle", "circle", "triangle-up"]}, "legend": null},
    "size": {"field": "g", "type": "ordinal", "scale": {"domain": ["u", "m", "l"], "range": [40, 6, 36]}, "legend": null}
   }},
  {"data": {"name": "H"}, "mark": {"type": "line"},
   "encoding": {
    "x": {"field": "t", "type": "quantitative", "axis": null},
    "y": {"field": "m", "type": "quantitative", "axis": null},
    "color": {"field": "s", "type": "nominal"},
    "detail": {"field": "g"}
   }},
  {"data": {"name": "H"}, "mark": {"type": "point"},
   "encoding": {
    "x": {"field": "t", "type": "quantitative", "axis": null},
    "y": {"field": "m", "type": "quantitative", "axis": null},
    "color": {"field": "s", "type": "nominal"},
    "shape": {"field": "g", "type": "nominal", "legend": null},
    "size": {"field": "g", "type": "ordinal", "legend": null}
   }}
 ]
}
],
"spacing": 0,
"resolve": {"scale": {"color": "independent", "shape": "independent", "size": "independent"}, "legend": {"color": "independent", "shape": "independent", "size": "independent"}}
}
]
}
